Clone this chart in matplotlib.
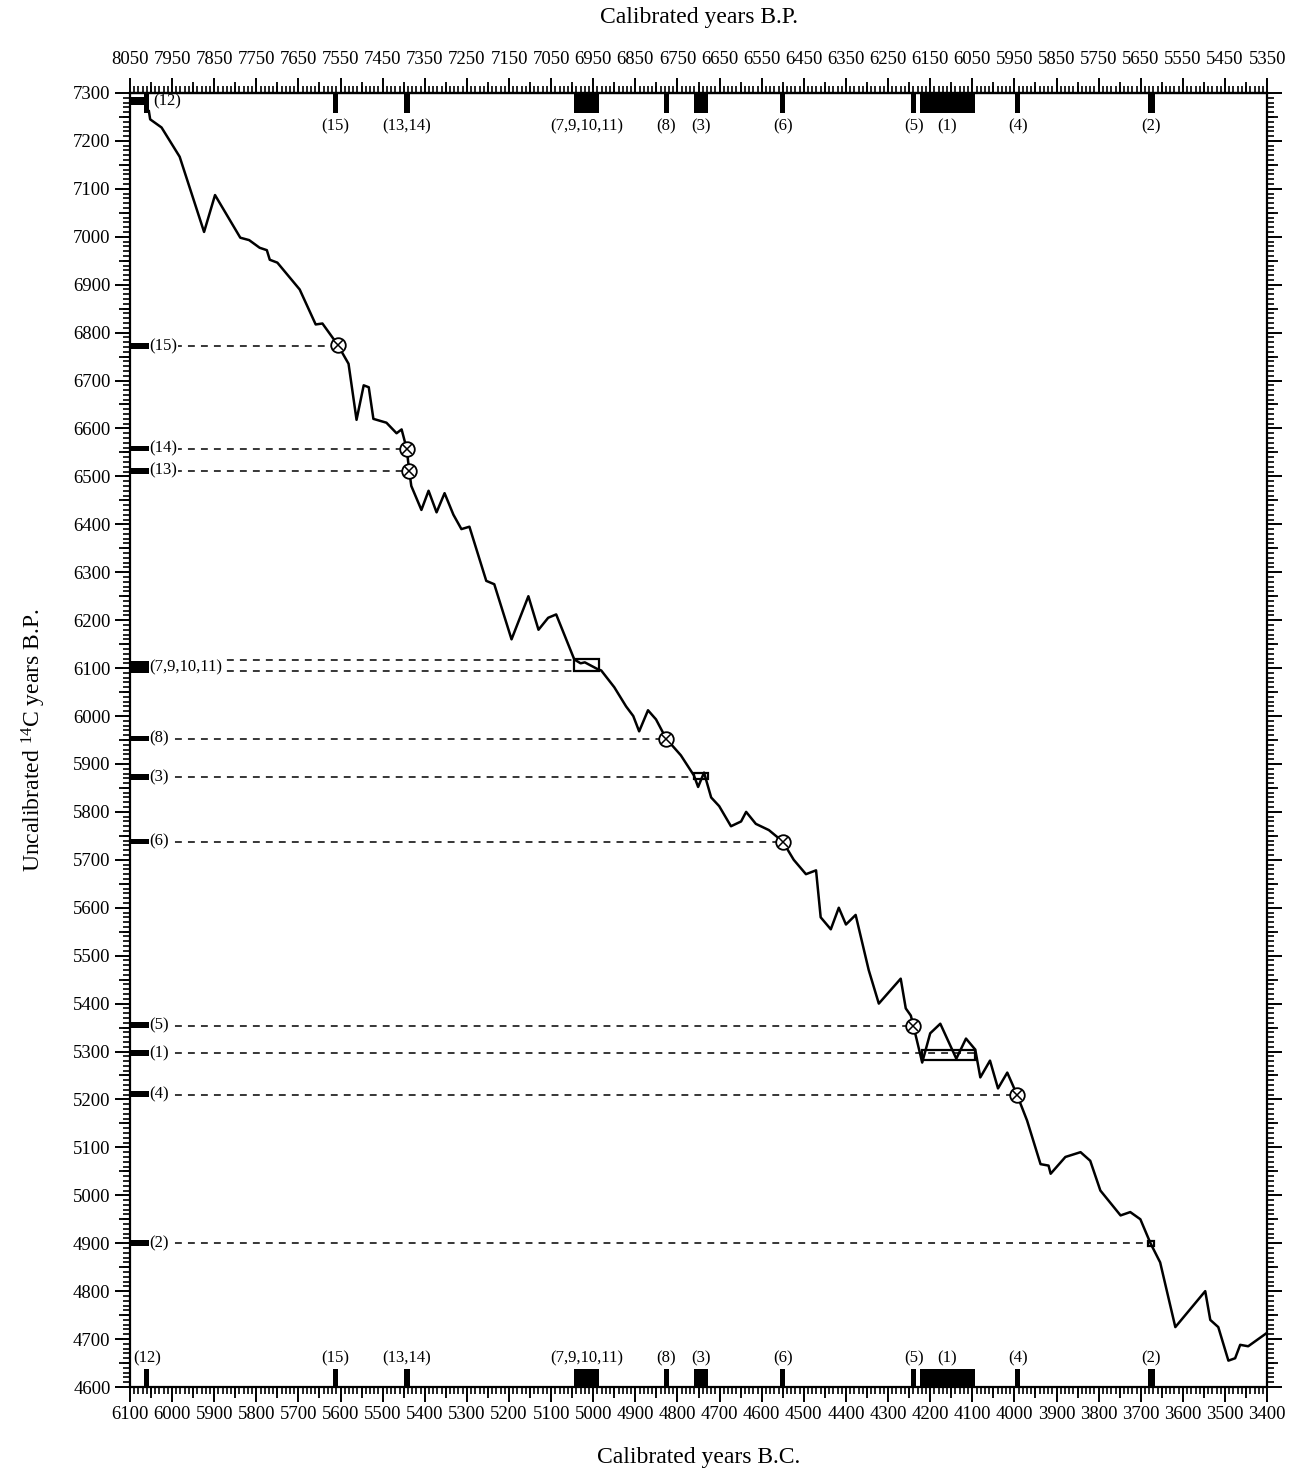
import numpy as np
import matplotlib
matplotlib.use('Agg')
import matplotlib.pyplot as plt
from matplotlib.patches import Rectangle

plt.rcParams['font.family'] = ['Liberation Serif', 'DejaVu Serif']
plt.rcParams['mathtext.fontset'] = 'custom'
plt.rcParams['mathtext.rm'] = 'Liberation Serif'
plt.rcParams['mathtext.it'] = 'Liberation Serif:italic'

# calibration curve: calendar years B.C. vs uncalibrated 14C years B.P.
curve_bc = [6055, 6052, 6025, 5982, 5924, 5898, 5838, 5817, 5792, 5775, 5768, 5750,
            5697, 5659, 5643, 5607, 5581, 5562, 5545, 5533, 5522, 5491, 5467, 5455,
            5443, 5437, 5432, 5408, 5391, 5372, 5353, 5332, 5313, 5294, 5254, 5235,
            5194, 5154, 5130, 5107, 5088, 5045, 5030, 5020, 5005, 4990, 4981, 4950,
            4922, 4905, 4891, 4870, 4851, 4827, 4792, 4761, 4751, 4737, 4720, 4701,
            4673, 4649, 4637, 4614, 4583, 4550, 4524, 4495, 4471, 4460, 4436, 4417,
            4400, 4377, 4346, 4322, 4270, 4258, 4246, 4240, 4219, 4200, 4176, 4138,
            4115, 4093, 4081, 4058, 4039, 4017, 3994, 3970, 3938, 3919, 3914, 3879,
            3843, 3820, 3796, 3748, 3725, 3701, 3677, 3654, 3618, 3547, 3535, 3516,
            3492, 3476, 3464, 3445, 3402]
curve_c14 = [7262, 7245, 7228, 7167, 7010, 7087, 6998, 6993, 6977, 6972, 6952, 6946,
             6890, 6817, 6819, 6775, 6735, 6618, 6690, 6686, 6620, 6612, 6590, 6598,
             6558, 6512, 6480, 6430, 6470, 6425, 6465, 6420, 6390, 6395, 6282, 6275,
             6160, 6250, 6180, 6205, 6212, 6118, 6110, 6112, 6105, 6098, 6095, 6060,
             6020, 6000, 5968, 6012, 5993, 5953, 5918, 5876, 5852, 5882, 5830, 5812,
             5770, 5780, 5800, 5775, 5762, 5738, 5700, 5670, 5678, 5580, 5555, 5600,
             5565, 5585, 5470, 5400, 5452, 5390, 5375, 5354, 5277, 5338, 5358, 5285,
             5327, 5304, 5246, 5281, 5223, 5256, 5210, 5156, 5065, 5062, 5045, 5080,
             5090, 5072, 5010, 4958, 4965, 4950, 4900, 4860, 4725, 4800, 4740, 4725,
             4655, 4660, 4688, 4685, 4712]

# sample 14C ages (bars on the left axis)
c14_labels = ['(15)', '(14)', '(13)', '(7,9,10,11)', '(8)', '(3)', '(6)', '(5)', '(1)', '(4)', '(2)']
c14_low = [6766, 6552, 6506, 6090, 5947, 5866, 5732, 5349, 5291, 5205, 4894]
c14_high = [6778, 6564, 6518, 6115, 5959, 5878, 5744, 5361, 5303, 5217, 4906]
c14_12 = (7275, 7292)

# dashed projection lines (14C level, calendar end)
dash_c14 = [6772, 6558, 6512, 6116, 6093, 5953, 5872, 5738, 5354, 5296, 5210, 4900]
dash_end = [5607, 5443, 5437, 5045, 5045, 4827, 4760, 4550, 4240, 4093, 3994, 3682]

# intercepts on the curve
cross_bc = [5607, 5443, 5437, 4827, 4550, 4240, 3994]
cross_c14 = [6775, 6558, 6512, 5953, 5738, 5354, 5210]
box_bc0 = [5045, 4760, 4219, 3682]
box_bc1 = [4986, 4727, 4093, 3668]
box_c0 = [6093, 5868, 5283, 4895]
box_c1 = [6120, 5882, 5304, 4905]

# calibrated ranges (bars on top and bottom axes)
cal_labels = ['(12)', '(15)', '(13,14)', '(7,9,10,11)', '(8)', '(3)', '(6)', '(5)', '(1)', '(4)', '(2)']
cal_from = [6066, 5618, 5450, 5045, 4833, 4760, 4556, 4245, 4225, 3998, 3683]
cal_to = [6054, 5606, 5436, 4986, 4821, 4727, 4544, 4233, 4093, 3987, 3667]

fig = plt.figure(figsize=(12.93, 14.71), dpi=100)
ax = fig.add_axes([0.1005, 0.0571, 0.8795, 0.8797])
ax.set_xlim(6100, 3400)
ax.set_ylim(4600, 7300)

ax.plot(curve_bc, curve_c14, color='black', lw=1.8, zorder=4)

# left axis bars and labels
for lab, lo, hi in zip(c14_labels, c14_low, c14_high):
    ax.add_patch(Rectangle((6100, lo), -45, hi - lo, color='black', lw=0, clip_on=False, zorder=5))
    ax.text(6053, (lo + hi) / 2, lab, fontsize=12, ha='left', va='center', zorder=6,
            bbox=dict(facecolor='white', edgecolor='none', pad=0.5))
ax.add_patch(Rectangle((6100, c14_12[0]), -45, c14_12[1] - c14_12[0], color='black', lw=0, zorder=5))

for yv, xe in zip(dash_c14, dash_end):
    ax.plot([6055, xe], [yv, yv], color='black', lw=1.1, ls=(0, (4.5, 4)), zorder=3)

ax.plot(cross_bc, cross_c14, 'o', ms=10.5, mfc='white', mec='black', mew=1.3, ls='none', zorder=6)
ax.plot(cross_bc, cross_c14, 'x', ms=7, color='black', mew=1.1, ls='none', zorder=7)

for b0, b1, y0, y1 in zip(box_bc0, box_bc1, box_c0, box_c1):
    ax.add_patch(Rectangle((b0, y0), b1 - b0, y1 - y0, fill=False, ec='black', lw=1.6, zorder=5))

# calibrated ranges on bottom and top
for i, (lab, a, b) in enumerate(zip(cal_labels, cal_from, cal_to)):
    ax.add_patch(Rectangle((a, 4600), b - a, 38, color='black', lw=0, zorder=5))
    ax.add_patch(Rectangle((a, 7300), b - a, -42, color='black', lw=0, zorder=5))
    ax.text((a + b) / 2, 4644, lab, fontsize=12, ha='center', va='bottom')
    if i == 0:
        ax.text(6044, 7282, lab, fontsize=12, ha='left', va='center')
    else:
        ax.text((a + b) / 2, 7246, lab, fontsize=12, ha='center', va='top')

# ticks
for sp in ax.spines.values():
    sp.set_linewidth(1.6)
ax.set_xticks(np.arange(3400, 6101, 100))
ax.set_xticks(np.arange(3400, 6101, 10), minor=True)
ax.set_yticks(np.arange(4600, 7301, 100))
ax.set_yticks(np.arange(4600, 7301, 10), minor=True)
ax.tick_params(axis='both', which='major', direction='out', length=11, width=1.4, labelsize=13.5, pad=3)
ax.tick_params(axis='both', which='minor', direction='out', length=5, width=1.2)
ax.tick_params(axis='y', which='both', left=True, right=True, labelright=False)

top = ax.secondary_xaxis('top', functions=(lambda x: x + 1950, lambda x: x - 1950))
top.set_xticks(np.arange(5350, 8051, 100))
top.set_xticks(np.arange(5350, 8051, 10), minor=True)
top.tick_params(axis='x', which='major', direction='out', length=11, width=1.4, labelsize=13.5, pad=7)
top.tick_params(axis='x', which='minor', direction='out', length=5, width=1.2)
top.spines['top'].set_linewidth(1.6)

# medium ticks at the 50s
mid_x = np.arange(3450, 6100, 100)
mid_y = np.arange(4650, 7300, 100)
for loc in ['bottom', 'top']:
    sec = ax.secondary_xaxis(loc)
    sec.set_xticks(mid_x, labels=[''] * len(mid_x))
    sec.tick_params(axis='x', direction='out', length=8, width=1.3)
    for sp in sec.spines.values():
        sp.set_visible(False)
for loc in ['left', 'right']:
    sec = ax.secondary_yaxis(loc)
    sec.set_yticks(mid_y, labels=[''] * len(mid_y))
    sec.tick_params(axis='y', direction='out', length=8, width=1.3)
    for sp in sec.spines.values():
        sp.set_visible(False)

ax.set_xlabel('Calibrated years B.C.', fontsize=17, labelpad=17)
top.set_xlabel('Calibrated years B.P.', fontsize=17, labelpad=20)
ax.set_ylabel(r'Uncalibrated $^{14}$C years B.P.', fontsize=17, labelpad=18)

fig.savefig('out.png', dpi=100)
